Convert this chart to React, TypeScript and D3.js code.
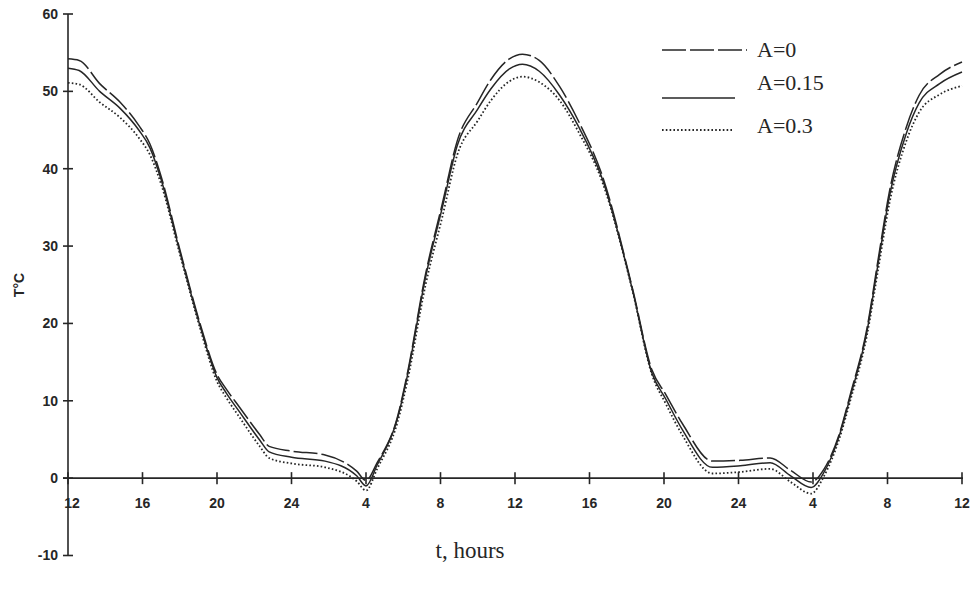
import React from "react";
import * as d3 from "d3";

const hours = [12, 12.6, 13.7, 14.8, 15.8, 16.4, 17.0, 18.0, 19.1, 20.0, 20.5, 21.2, 22.3, 22.8, 24.0, 25.8, 27.5, 28.0, 28.6, 29.7, 30.2, 31.2, 32.1, 32.9, 34.0, 34.7, 35.7, 36.4, 37.3, 38.4, 39.4, 40.7, 42.3, 43.35, 44.1, 45.0, 46.6, 48.1, 49.7, 50.8, 51.9, 52.6, 53.4, 54.0, 54.9, 55.5, 56.1, 57.0, 57.7, 58.8, 60];

const seriesA0 = [54.2, 54.0, 51.0, 48.6, 45.6, 43.2, 39.0, 29.6, 19.9, 13.4, 11.5, 9.2, 5.6, 4.1, 3.5, 3.0, 0.9, -0.3, 2.0, 8.0, 13.3, 26.4, 35.5, 43.6, 48.6, 51.5, 54.2, 54.8, 54.0, 50.6, 46.2, 39.0, 24.6, 14.0, 10.8, 7.0, 2.2, 2.3, 2.6, 1.0, -0.5, 1.2, 5.6, 10.8, 19.4, 28.3, 37.0, 45.3, 49.5, 52.2, 53.8];

const seriesA015 = [53.0, 52.7, 50.0, 47.8, 45.0, 42.7, 38.6, 29.3, 19.6, 13.0, 11.0, 8.6, 4.9, 3.4, 2.7, 2.2, 0.3, -1.0, 1.7, 7.8, 13.0, 26.0, 35.0, 43.0, 47.7, 50.3, 52.9, 53.5, 52.6, 49.5, 45.5, 38.6, 24.4, 13.6, 10.2, 6.2, 1.4, 1.6, 2.0, 0.3, -1.2, 0.8, 5.4, 10.5, 19.0, 27.8, 36.4, 44.5, 48.5, 51.0, 52.5];

const seriesA03 = [51.1, 50.9, 48.6, 46.6, 44.0, 41.8, 38.0, 29.0, 19.3, 12.5, 10.4, 7.9, 4.1, 2.6, 1.9, 1.4, -0.4, -1.6, 1.2, 7.3, 12.3, 25.0, 33.8, 41.8, 46.2, 48.8, 51.3, 51.9, 51.2, 48.8, 44.8, 38.2, 24.3, 13.4, 9.6, 5.5, 0.6, 0.8, 1.2, -0.5, -2.0, 0.3, 5.0, 10.0, 18.5, 27.0, 35.5, 43.5, 47.3, 49.6, 50.7];

const xTickValues = [12, 16, 20, 24, 28, 32, 36, 40, 44, 48, 52, 56, 60];
const xTickLabels = ["12", "16", "20", "24", "4", "8", "12", "16", "20", "24", "4", "8", "12"];
const yTickValues = [-10, 0, 10, 20, 30, 40, 50, 60];
const legendLabels = ["A=0", "A=0.15", "A=0.3"];

const INK = "#262626";

const series = [
  { label: legendLabels[0], values: seriesA0, dash: "24,4", width: 1.5 },
  { label: legendLabels[1], values: seriesA015, dash: null, width: 1.5 },
  { label: legendLabels[2], values: seriesA03, dash: "1.6,2.2", width: 1.8 },
];

export default function App() {
  const x = d3.scaleLinear().domain([12, 60]).range([68, 962]);
  const y = d3.scaleLinear().domain([-10, 60]).range([555.5, 14]);

  const line = d3
    .line<number>()
    .x((_, i) => x(hours[i]))
    .y((d) => y(d))
    .curve(d3.curveMonotoneX);

  const legendX1 = 662;
  const legendRows = [
    { lineY: 50, lineX2: 747, textY: 57 },
    { lineY: 98, lineX2: 735, textY: 90 },
    { lineY: 130, lineX2: 733, textY: 133 },
  ];

  return (
    <svg
      width={974}
      height={593}
      style={{ position: "absolute", left: 0, top: 0, background: "#ffffff" }}
      fontFamily="'Liberation Sans', Arial, sans-serif"
    >
      {/* Y axis */}
      <line x1={x(12)} x2={x(12)} y1={y(60)} y2={y(-10)} stroke={INK} strokeWidth={1.6} />
      {yTickValues.map((v) => (
        <g key={"y" + v}>
          <line x1={x(12) - 5} x2={x(12) + 5} y1={y(v)} y2={y(v)} stroke={INK} strokeWidth={1.6} />
          <text
            x={x(12) - 10}
            y={y(v)}
            dy="0.35em"
            textAnchor="end"
            fontSize={14}
            fontWeight={600}
            fill={INK}
          >
            {v}
          </text>
        </g>
      ))}
      <text
        transform={`translate(24,285) rotate(-90)`}
        textAnchor="middle"
        fontSize={14}
        fontWeight={700}
        fill={INK}
      >
        T°C
      </text>

      {/* X axis */}
      <line x1={63} x2={963} y1={y(0)} y2={y(0)} stroke={INK} strokeWidth={1.6} />
      {xTickValues.map((v, i) => (
        <g key={"x" + i}>
          <line x1={x(v)} x2={x(v)} y1={y(0) - 6} y2={y(0) + 6} stroke={INK} strokeWidth={1.6} />
          <text
            x={x(v) + (i === 0 ? 4 : 0)}
            y={y(0) + 30}
            textAnchor="middle"
            fontSize={14}
            fontWeight={600}
            fill={INK}
          >
            {xTickLabels[i]}
          </text>
        </g>
      ))}
      <text
        x={470}
        y={558}
        textAnchor="middle"
        fontSize={23}
        fontFamily="'Liberation Serif', 'Times New Roman', serif"
        fill={INK}
      >
        t, hours
      </text>

      {/* Curves */}
      {series.map((s) => (
        <path
          key={s.label}
          d={line(s.values) || ""}
          fill="none"
          stroke={INK}
          strokeWidth={s.width}
          strokeDasharray={s.dash || undefined}
        />
      ))}

      {/* Legend */}
      {series.map((s, i) => (
        <g key={"leg" + i}>
          <line
            x1={legendX1}
            x2={legendRows[i].lineX2}
            y1={legendRows[i].lineY}
            y2={legendRows[i].lineY}
            stroke={INK}
            strokeWidth={s.width}
            strokeDasharray={s.dash || undefined}
          />
          <text
            x={757}
            y={legendRows[i].textY}
            fontSize={22}
            fontFamily="'Liberation Serif', 'Times New Roman', serif"
            fill={INK}
          >
            {s.label}
          </text>
        </g>
      ))}
    </svg>
  );
}
